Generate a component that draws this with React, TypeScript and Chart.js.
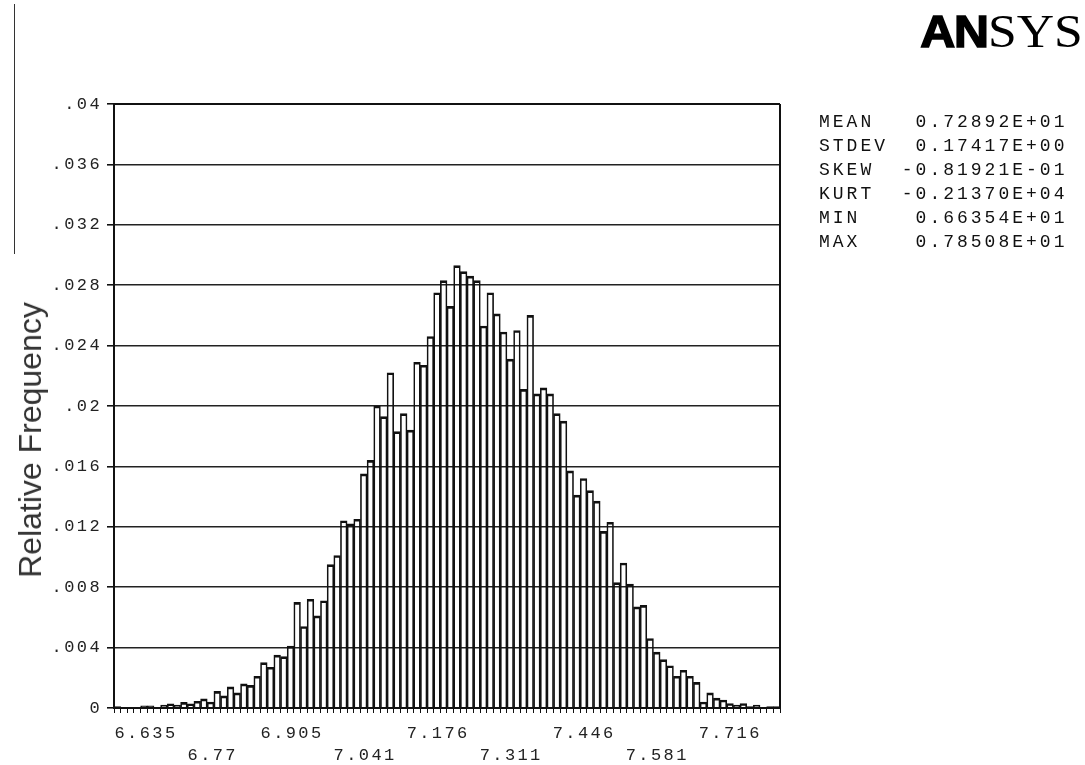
import React, { useEffect, useRef } from 'react';
import { Chart, registerables } from 'chart.js';

Chart.register(...registerables);

// ---------------- data ----------------
const X_MIN = 6.6345;
const X_MAX = 7.866;
const BIN_COUNT = 100;

const REL_FREQ = [
  0.0001, 0, 0, 0, 0.00015, 0.00015, 0, 0.0002, 0.00027, 0.0002,
  0.00037, 0.00027, 0.00045, 0.0006, 0.0004, 0.0011, 0.0008, 0.0014, 0.001, 0.0016,
  0.0015, 0.0021, 0.003, 0.0027, 0.0035, 0.0034, 0.0041, 0.007, 0.0054, 0.0072,
  0.0061, 0.0071, 0.0095, 0.0101, 0.0124, 0.0122, 0.0125, 0.0155, 0.0164, 0.02,
  0.0193, 0.0222, 0.0183, 0.0195, 0.0184, 0.0229, 0.0227, 0.0246, 0.0275, 0.0283,
  0.0266, 0.0293, 0.0289, 0.0286, 0.0283, 0.0253, 0.0275, 0.0261, 0.0249, 0.0231,
  0.025, 0.0211, 0.026, 0.0208, 0.0212, 0.0208, 0.0195, 0.019, 0.0157, 0.0141,
  0.0152, 0.0144, 0.0137, 0.0117, 0.0123, 0.0083, 0.0096, 0.0082, 0.0067, 0.0068,
  0.0046, 0.0037, 0.0032, 0.0028, 0.0021, 0.0025, 0.0021, 0.0017, 0.0004, 0.001,
  0.00065, 0.00053, 0.0003, 0.0002, 0.0003, 0.0001, 0.0002, 0, 0.0001, 0.0001,
];

const X_TICK_VALUES = [6.6354, 6.7705, 6.9055, 7.0406, 7.1756, 7.3107, 7.4457, 7.5808, 7.7158];
const X_TICK_LABELS = ['6.635', '6.77', '6.905', '7.041', '7.176', '7.311', '7.446', '7.581', '7.716'];

const Y_TICK_VALUES = [0, 0.004, 0.008, 0.012, 0.016, 0.02, 0.024, 0.028, 0.032, 0.036, 0.04];
const Y_TICK_LABELS = ['0', '.004', '.008', '.012', '.016', '.02', '.024', '.028', '.032', '.036', '.04'];

const Y_TITLE = 'Relative Frequency';

const STAT_NAMES = ['MEAN', 'STDEV', 'SKEW', 'KURT', 'MIN', 'MAX'];
const STAT_VALUES = ['0.72892E+01', '0.17417E+00', '-0.81921E-01', '-0.21370E+04', '0.66354E+01', '0.78508E+01'];

const MONO = "'Liberation Mono', 'DejaVu Sans Mono', monospace";

export default function App() {
  const canvasRef = useRef<HTMLCanvasElement>(null);

  useEffect(() => {
    const canvas = canvasRef.current;
    if (!canvas) return;

    const binWidth = (X_MAX - X_MIN) / BIN_COUNT;
    const points = REL_FREQ.map((v, i) => ({ x: X_MIN + (i + 0.5) * binWidth, y: v }));
    const binEdges: number[] = [];
    for (let k = 0; k <= BIN_COUNT; k++) binEdges.push(X_MIN + k * binWidth);

    const spacingPlugin = {
      id: 'letterSpacing',
      beforeLayout(chart: any) {
        chart.ctx.letterSpacing = '2.4px';
      },
      beforeDraw(chart: any) {
        chart.ctx.letterSpacing = '2.4px';
      },
    };

    const framePlugin = {
      id: 'frame',
      afterDatasetsDraw(chart: any) {
        const { ctx, chartArea: a } = chart;
        ctx.save();
        ctx.strokeStyle = '#111';
        ctx.lineWidth = 2;
        ctx.beginPath();
        ctx.moveTo(a.right, a.top);
        ctx.lineTo(a.right, a.bottom);
        ctx.moveTo(a.left, a.top);
        ctx.lineTo(a.right, a.top);
        ctx.stroke();
        ctx.restore();
      },
    };

    const chart = new Chart(canvas, {
      type: 'bar',
      data: {
        datasets: [
          {
            data: points as any,
            backgroundColor: 'rgba(255,255,255,0)',
            borderColor: '#111',
            borderWidth: { top: 2, left: 1, right: 1, bottom: 0 } as any,
            barPercentage: 1,
            categoryPercentage: 1,
            xAxisID: 'x',
          },
        ],
      },
      options: {
        responsive: false,
        animation: false,
        devicePixelRatio: 1,
        layout: { padding: { left: 54, right: 305, top: 104, bottom: 0 } },
        plugins: { legend: { display: false }, tooltip: { enabled: false }, title: { display: false } },
        scales: {
          x: {
            type: 'linear',
            position: 'bottom',
            weight: 0,
            offset: false,
            min: X_MIN,
            max: X_MAX,
            afterBuildTicks: (s: any) => {
              s.ticks = binEdges.map((v) => ({ value: v }));
            },
            afterFit: (s: any) => {
              s.height = 5;
            },
            ticks: { display: false, autoSkip: false },
            grid: { display: true, offset: false, drawOnChartArea: false, drawTicks: true, tickLength: 5, color: '#111', lineWidth: 1 },
            border: { display: true, color: '#111', width: 2 },
          },
          xLabels: {
            type: 'linear',
            position: 'bottom',
            weight: 1,
            offset: false,
            min: X_MIN,
            max: X_MAX,
            afterBuildTicks: (s: any) => {
              s.ticks = X_TICK_VALUES.map((v) => ({ value: v }));
            },
            afterFit: (s: any) => {
              s.height = 52;
            },
            ticks: {
              autoSkip: false,
              maxRotation: 0,
              minRotation: 0,
              align: 'start',
              padding: 9,
              color: '#222',
              font: { family: MONO, size: 17, lineHeight: 22 / 17 },
              callback: (_v: any, i: number) => (i % 2 === 0 ? [X_TICK_LABELS[i], ''] : ['', X_TICK_LABELS[i]]),
            },
            grid: { display: false, offset: false, drawTicks: false },
            border: { display: false },
          },
          y: {
            type: 'linear',
            position: 'left',
            min: 0,
            max: 0.04,
            afterBuildTicks: (s: any) => {
              s.ticks = Y_TICK_VALUES.map((v) => ({ value: v }));
            },
            afterFit: (s: any) => {
              s.width = 60;
            },
            ticks: {
              padding: 5,
              color: '#222',
              font: { family: MONO, size: 17 },
              callback: (_v: any, i: number) => Y_TICK_LABELS[i],
            },
            grid: { color: '#222', lineWidth: 1.6, drawTicks: true, tickLength: 7, tickColor: '#111' },
            border: { display: true, color: '#111', width: 2 },
          },
        },
      } as any,
      plugins: [spacingPlugin, framePlugin],
    });

    return () => chart.destroy();
  }, []);

  return (
    <div style={{ position: 'absolute', left: 0, top: 0, width: 1085, height: 765, background: '#fff', overflow: 'hidden' }}>
      <canvas ref={canvasRef} width={1085} height={765} style={{ display: 'block', width: 1085, height: 765 }} />
      <div style={{ position: 'absolute', left: 14, top: 4, width: 1, height: 250, background: '#333' }} />
      <div
        style={{
          position: 'absolute',
          left: 30,
          top: 440,
          transform: 'translate(-50%, -50%) rotate(-90deg)',
          fontFamily: "'Liberation Sans', Arial, sans-serif",
          fontSize: 32,
          lineHeight: 1,
          whiteSpace: 'nowrap',
          color: '#333',
        }}
      >
        {Y_TITLE}
      </div>
      <div
        style={{
          position: 'absolute',
          left: 819,
          top: 110,
          fontFamily: MONO,
          fontSize: 18,
          lineHeight: '24px',
          letterSpacing: '3px',
          whiteSpace: 'pre',
          color: '#111',
        }}
      >
        {STAT_NAMES.map((n, i) => (
          <div key={n}>{n.padEnd(6) + STAT_VALUES[i].padStart(12)}</div>
        ))}
      </div>
      <div
        style={{
          position: 'absolute',
          right: 2,
          top: 8,
          lineHeight: 1,
          whiteSpace: 'nowrap',
          transform: 'scaleX(1.1)',
          transformOrigin: 'right top',
          color: '#000',
        }}
      >
        <span style={{ fontFamily: "'Liberation Sans', Arial, sans-serif", fontWeight: 700, fontSize: 44, WebkitTextStroke: '1.5px #000', letterSpacing: '-1px' }}>AN</span>
        <span style={{ fontFamily: "'Liberation Serif', 'Times New Roman', serif", fontSize: 47 }}>SYS</span>
      </div>
    </div>
  );
}
